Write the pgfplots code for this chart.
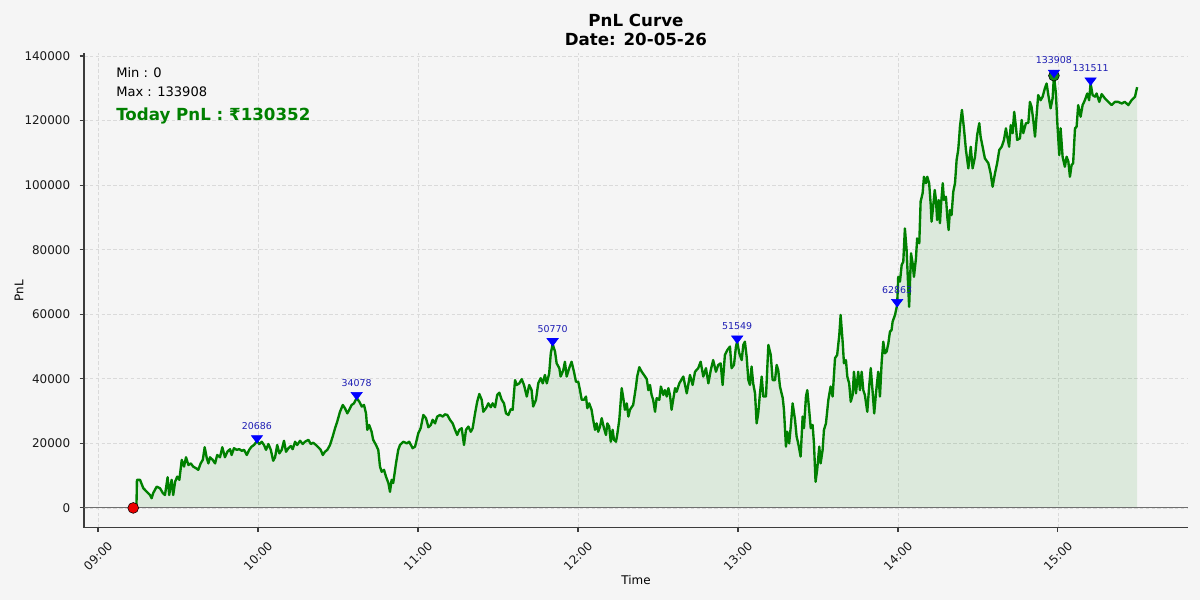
\documentclass[border=0pt]{standalone}
\usepackage{fontspec}
\setmainfont{DejaVu Sans}
\usepackage{pgfplots}
\usepackage{pgfplotstable}
\pgfplotsset{compat=1.18}
\definecolor{bgc}{RGB}{245,245,245}
\definecolor{pnlgreen}{RGB}{0,128,0}
\definecolor{gridc}{RGB}{218,218,218}
\definecolor{spinec}{RGB}{60,60,60}
\definecolor{annblue}{RGB}{30,30,180}
\definecolor{zeroc}{RGB}{110,110,110}

\pgfplotstableread{
m v
13.2 0
14.4 0
14.6 8700
15.75 8700
17.0 6100
18.3 5000
19.5 4000
20.1 3000
20.7 4600
22.0 6600
23.25 6100
24.3 4600
25.1 4000
26.1 9500
26.7 4000
27.6 8700
28.2 4000
28.9 8100
29.7 9700
30.5 8700
31.4 14900
32.25 12800
33.0 15700
33.9 13300
34.8 13800
35.7 12800
36.75 12300
37.6 11800
38.5 13800
39.3 14900
40.0 18800
40.8 15400
41.4 13800
42.0 15700
43.0 14900
43.9 13800
44.7 16400
45.75 15700
46.6 18800
47.6 15700
48.5 17400
49.5 18200
50.1 16400
51.0 18500
52.0 18000
53.0 18200
53.9 17700
54.75 18000
55.8 16400
56.7 18000
57.6 19000
58.5 19500
59.6 20686
60.5 19800
61.4 20500
62.25 19500
63.0 18000
63.9 19800
64.8 18000
65.7 14600
66.4 15700
67.2 19500
68.0 16900
68.9 18000
69.75 20800
70.5 17400
71.4 18500
72.3 19200
73.0 18200
73.9 20500
74.7 19500
75.75 20800
76.8 19800
77.6 20500
78.9 21100
79.8 19800
80.7 20200
81.75 19500
82.6 18800
83.5 18000
84.3 16400
85.1 17400
86.0 18000
87.0 19500
88.0 22100
88.9 24700
89.7 26700
90.75 29800
91.8 31900
92.6 30900
93.5 29300
94.2 30400
95.1 31900
96.0 32400
97.0 34078
98.0 32900
98.9 31400
99.75 31900
100.5 29300
101.0 24200
101.7 25700
102.6 23600
103.2 21100
104.25 19500
105.1 18000
105.75 12800
106.4 11200
107.25 11800
108.0 9700
108.9 7700
109.5 5000
110.1 8700
110.7 7700
111.75 13800
112.6 18000
113.25 19500
114.5 20500
115.8 20000
116.7 20500
118.0 18500
118.9 19000
120.1 23100
121.0 24700
122.0 28800
123.0 27800
123.9 25000
124.8 25700
125.5 27300
126.4 26200
127.2 28300
128.25 28800
129.3 28300
130.1 29000
131.0 28800
132.0 27300
133.0 26200
133.9 24200
134.7 22600
135.5 24200
136.4 24700
137.25 19500
138.0 24200
138.9 25200
139.8 23600
140.5 24700
141.4 29300
142.2 32900
143.0 35300
143.9 33500
144.5 29800
145.5 30900
146.4 32400
147.3 31200
148.0 32400
148.9 31200
149.7 35000
150.5 35700
151.4 33500
152.25 32400
153.0 29300
153.9 28800
154.8 30600
155.5 30400
156.4 39600
157.0 38100
158.0 38600
158.9 39900
159.75 38100
160.8 34500
161.7 38100
162.6 36500
163.2 31400
164.25 33500
165.1 38600
166.0 40200
166.8 38600
167.6 41200
168.3 38600
169.2 41700
169.8 47900
170.5 50770
171.4 48400
172.0 44800
173.0 43300
173.5 40700
174.5 42700
175.1 45300
175.75 40700
176.7 43300
177.6 45300
178.5 42200
179.25 39100
180.1 39100
180.75 36500
181.4 33500
182.25 33500
183.0 34500
183.5 30900
184.2 32400
185.1 30400
185.7 27300
186.4 24200
187.0 26200
187.6 23600
188.25 25200
188.9 27800
189.75 24700
190.5 22600
191.0 26200
191.7 25200
192.3 20500
193.0 24200
193.5 21100
194.25 20500
194.7 22600
195.5 27300
196.4 37100
197.0 34000
197.6 30400
198.3 32400
198.9 28300
199.5 30400
200.1 31200
200.7 31900
201.75 37600
202.2 40700
203.0 43600
203.9 42200
204.75 41200
205.8 39900
206.4 36500
207.0 38100
207.6 35000
208.2 33500
208.9 29800
209.5 34000
210.5 33500
211.1 37600
212.0 35000
212.6 36500
213.3 34500
213.9 37100
214.5 35000
215.1 30400
215.7 33500
216.4 37100
217.0 36000
218.0 38600
219.5 40700
220.8 35500
222.0 41200
223.0 38100
223.9 42200
225.1 43300
226.0 45300
227.0 40700
228.0 43300
228.9 38600
229.8 42700
230.7 45800
231.75 42200
232.6 44300
233.5 44800
234.25 38100
235.1 47400
236.0 48900
237.0 50000
237.6 43300
238.5 44300
239.25 50000
239.7 51549
240.5 47900
241.4 45800
242.0 50500
242.6 51500
243.25 46900
243.9 39600
244.5 38100
245.1 43800
245.7 38600
246.4 35500
247.0 26200
247.6 29300
248.25 35500
248.9 40700
249.5 34500
250.5 34500
251.4 50500
252.3 47400
253.0 39600
253.9 39600
254.5 44300
255.1 42700
255.75 37600
256.8 34000
257.25 30400
258.0 19000
258.5 23600
259.2 20000
259.8 25200
260.5 32400
261.4 27300
262.0 22100
262.6 20000
263.5 15900
264.25 28300
264.75 24700
265.5 34500
266.0 36500
266.7 30400
267.3 24700
268.0 25700
268.5 20000
269.1 8100
269.7 11800
270.5 19000
271.0 13800
271.75 18000
272.25 24200
273.0 26200
273.9 33500
274.75 37600
275.5 34500
276.4 46400
277.2 47400
278.0 53600
278.5 59800
279.3 51000
279.75 44800
280.5 45800
281.0 40700
281.7 38600
282.3 32900
283.0 35000
283.5 42200
284.25 35500
285.1 42200
285.75 36500
286.4 42200
287.0 36500
287.6 35000
288.5 29800
289.2 37600
289.8 43300
290.5 36000
291.1 29300
291.75 35500
292.6 42200
293.25 34500
293.9 45300
294.5 51500
295.1 47900
295.75 48400
296.4 51000
297.0 54600
297.6 55100
298.0 57700
298.9 59800
299.7 62863
300.1 71600
300.75 70100
301.4 75300
302.0 76300
302.6 86600
303.25 79900
303.9 67500
304.2 62300
304.9 78900
305.5 75800
306.0 71600
306.75 77300
307.2 83500
308.0 82000
308.5 94900
309.25 97500
309.75 102600
310.5 100600
311.0 102600
311.7 100600
312.3 93800
312.6 88700
313.25 93800
313.8 98500
314.25 95400
314.7 89200
315.3 95400
315.75 88200
316.2 94400
316.8 100600
317.25 95400
318.0 96400
318.5 90200
319.0 86100
319.5 92300
320.1 90700
320.75 98000
321.4 100600
322.0 107800
322.6 110900
323.0 115000
323.25 118100
324.0 123300
324.75 117600
325.5 110900
326.4 105200
327.3 111900
328.0 105200
328.9 108800
329.7 115500
330.5 119200
331.0 115000
331.75 111900
332.6 108300
333.9 106800
334.75 103700
335.5 99500
336.4 103700
337.2 106800
338.0 110900
338.9 111900
339.75 114000
340.5 117600
341.0 115000
341.7 111900
342.3 118600
343.0 116100
343.6 122700
344.25 118100
344.7 114000
345.75 114500
346.4 120200
347.0 116100
348.0 119200
348.9 119300
349.5 125800
350.1 124300
350.75 120200
351.4 115000
352.0 121700
352.6 127900
353.5 126300
354.25 127400
355.1 130000
355.75 131500
356.4 127900
357.25 123800
358.0 126900
358.5 133908
359.25 128400
359.7 120200
360.5 109300
361.0 117600
361.75 108800
362.6 105700
363.25 108800
363.9 107300
364.5 102600
365.1 106200
365.7 106800
366.4 117600
367.0 118100
367.6 124800
368.5 121200
369.25 124800
370.1 126300
371.0 128400
371.7 126300
372.25 131511
373.0 127900
373.9 127400
374.5 128400
375.5 125800
376.4 128200
377.6 126900
378.9 125800
380.1 124800
381.4 125800
382.6 125800
383.9 125300
385.1 125800
386.4 124800
387.6 126300
388.9 127400
389.7 130352
}\pnldata

\pgfplotstableread{
m v lab
59.6 20686 20686
97.0 34078 34078
170.5 50770 50770
239.7 51549 51549
299.7 62863 62863
358.5 133908 133908
372.25 131511 131511
}\peaks

\begin{document}
\begin{tikzpicture}
\path[use as bounding box, fill=bgc] (-60.5pt,-51.9pt) rectangle (803.5pt,380.1pt);
\begin{axis}[
  at={(0,0)}, anchor=south west,
  scale only axis, width=794.8pt, height=341.7pt,
  xmin=-5.25, xmax=408.75, ymin=-6195, ymax=140836,
  axis lines*=left,
  axis line style={draw=spinec, line width=0.8pt},
  scaled y ticks=false, scaled x ticks=false,
  xtick={0,60,120,180,240,300,360},
  xticklabels={09:00,10:00,11:00,12:00,13:00,14:00,15:00},
  ytick={0,20000,40000,60000,80000,100000,120000,140000},
  yticklabels={0,20000,40000,60000,80000,100000,120000,140000},
  tick align=outside, major tick length=3.1pt,
  tick style={draw=spinec, line width=0.8pt},
  grid=major,
  grid style={draw=gridc, line width=0.5pt, dash pattern=on 2.6pt off 1.6pt},
  ticklabel style={font=\fontsize{8.6}{10}\selectfont, text=black!90},
  xticklabel style={yshift=-17.2pt, rotate=45, anchor=center},
  yticklabel style={anchor=east, inner sep=0pt, xshift=-6.7pt},
]
\addplot[draw=none, fill=pnlgreen, fill opacity=0.1, forget plot] table[x=m,y=v] {\pnldata} \closedcycle;
\addplot[draw=zeroc, line width=0.8pt, forget plot] coordinates {(-5.25,0) (408.75,0)};
\addplot[draw=pnlgreen, line width=1.7pt, line join=round, mark=none] table[x=m,y=v] {\pnldata};
\addplot[only marks, mark=*, mark size=3.9pt, draw=none, fill={rgb,255:red,20;green,135;blue,20}] coordinates {(358.5,133908)};
\addplot[only marks, mark=triangle*, mark size=3.6pt, draw=blue, fill=blue,
  mark options={yshift=2.2pt, rotate=180, xscale=1.3, draw=blue, fill=blue},
  nodes near coords, point meta=explicit symbolic,
  nodes near coords style={font=\fontsize{6.8}{8}\selectfont, text=annblue, anchor=base, inner sep=0pt, yshift=6.3pt}]
  table[x=m, y=v, meta=lab] {\peaks};
\addplot[only marks, mark=*, mark size=3.9pt, draw=none, fill={rgb,255:red,235;green,0;blue,0}] coordinates {(13.2,0)};
\end{axis}
\node[anchor=base, font=\bfseries\fontsize{12}{14}\selectfont, inner sep=0pt] at (397.4pt,360.9pt) {PnL Curve};
\node[anchor=base, font=\bfseries\fontsize{12}{14}\selectfont, inner sep=0pt] at (397.4pt,347.0pt) {Date: 20-05-26};
\node[anchor=base west, font=\fontsize{9.4}{11}\selectfont, inner sep=0pt] at (23pt,324.4pt) {Min : 0};
\node[anchor=base west, font=\fontsize{9.4}{11}\selectfont, inner sep=0pt] at (23pt,310.5pt) {Max : 133908};
\node[anchor=base west, font=\bfseries\fontsize{12}{14}\selectfont, text=pnlgreen, inner sep=0pt] at (23pt,293.2pt) {Today PnL : ₹130352};
\node[font=\fontsize{8.6}{10}\selectfont] at (397.4pt,-37.4pt) {Time};
\node[rotate=90, font=\fontsize{8.6}{10}\selectfont] at (-46.8pt,170.9pt) {PnL};
\end{tikzpicture}
\end{document}
